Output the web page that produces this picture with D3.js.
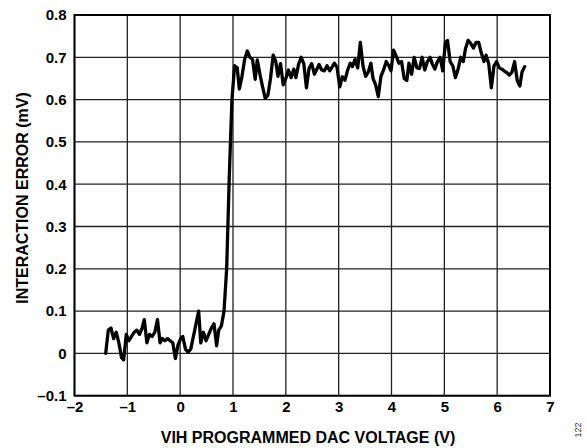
<!DOCTYPE html>
<html><head><meta charset="utf-8">
<script src="https://cdn.jsdelivr.net/npm/d3@7"></script>
<style>body{margin:0;background:#fff;}svg{display:block;font-family:"Liberation Sans",Arial,sans-serif;}</style>
</head><body>
<script>
const xTicks = [-2,-1,0,1,2,3,4,5,6,7];
const yTicks = [-0.1,0,0.1,0.2,0.3,0.4,0.5,0.6,0.7,0.8];
const xTickLabels = ["\u20132","\u20131","0","1","2","3","4","5","6","7"];
const yTickLabels = ["\u20130.1","0","0.1","0.2","0.3","0.4","0.5","0.6","0.7","0.8"];
const xTitle = "VIH PROGRAMMED DAC VOLTAGE (V)";
const yTitle = "INTERACTION ERROR (mV)";
const figNote = "122";
// sample voltages (V)
const voltage = [
-1.41,-1.36,-1.31,-1.26,-1.21,-1.16,-1.11,-1.07,-1.02,-0.97,
-0.92,-0.87,-0.82,-0.77,-0.72,-0.68,-0.63,-0.58,-0.53,-0.48,
-0.43,-0.38,-0.34,-0.29,-0.24,-0.19,-0.14,-0.09,-0.04,0.01,
0.05,0.10,0.15,0.20,0.25,0.30,0.35,0.39,0.44,0.49,
0.54,0.59,0.64,0.69,0.73,0.78,0.83,0.88,0.93,0.98,
1.03,1.08,1.12,1.17,1.22,1.27,1.32,1.37,1.42,1.46,
1.51,1.56,1.61,1.66,1.71,1.76,1.81,1.85,1.90,1.95,
2.00,2.05,2.10,2.15,2.19,2.24,2.29,2.34,2.39,2.44,
2.49,2.54,2.58,2.63,2.68,2.73,2.78,2.83,2.88,2.92,
2.97,3.02,3.07,3.12,3.17,3.22,3.26,3.31,3.36,3.41,
3.46,3.51,3.56,3.61,3.65,3.70,3.75,3.80,3.85,3.90,
3.95,3.99,4.04,4.09,4.14,4.19,4.24,4.29,4.33,4.38,
4.43,4.48,4.53,4.58,4.63,4.68,4.73,4.77,4.82,4.87,
4.92,4.97,5.02,5.06,5.11,5.16,5.21,5.26,5.31,5.36,
5.40,5.45,5.50,5.55,5.60,5.65,5.70,5.75,5.79,5.84,
5.89,5.94,5.99,6.04,6.09,6.13,6.18,6.23,6.28,6.33,
6.38,6.43,6.47,6.52];
// interaction error (mV)
const errorMV = [
0,0.055,0.06,0.035,0.05,0.025,-0.01,-0.015,0.045,0.03,
0.04,0.05,0.055,0.045,0.06,0.08,0.025,0.045,0.04,0.05,
0.08,0.025,0.035,0.03,0.035,0.03,0.025,-0.012,0.02,0.035,
0.04,0.01,0.003,0.01,0.04,0.07,0.1,0.025,0.05,0.03,
0.045,0.06,0.07,0.018,0.055,0.065,0.1,0.2,0.42,0.6,
0.68,0.675,0.625,0.655,0.695,0.715,0.7,0.695,0.648,0.694,
0.66,0.63,0.603,0.61,0.65,0.705,0.69,0.655,0.685,0.635,
0.65,0.67,0.652,0.672,0.652,0.683,0.7,0.685,0.628,0.674,
0.685,0.66,0.67,0.683,0.67,0.668,0.68,0.668,0.678,0.686,
0.676,0.63,0.654,0.646,0.67,0.686,0.678,0.695,0.675,0.735,
0.68,0.655,0.665,0.686,0.65,0.635,0.607,0.655,0.67,0.69,
0.68,0.668,0.717,0.702,0.686,0.69,0.65,0.645,0.686,0.66,
0.7,0.675,0.674,0.70,0.67,0.69,0.70,0.685,0.672,0.69,
0.70,0.668,0.735,0.74,0.69,0.68,0.652,0.672,0.70,0.69,
0.72,0.74,0.733,0.722,0.735,0.735,0.71,0.69,0.705,0.685,
0.628,0.68,0.69,0.675,0.672,0.668,0.664,0.658,0.665,0.69,
0.645,0.632,0.665,0.678];

const W = 587, H = 448;
const svg = d3.select("body").append("svg").attr("width", W).attr("height", H);
const x = d3.scaleLinear().domain([-2, 7]).range([74.5, 550]);
const y = d3.scaleLinear().domain([-0.1, 0.8]).range([395.7, 15]);

const g = svg.append("g");
// grid
g.selectAll(".vx").data(xTicks).join("line")
  .attr("x1", d => x(d)).attr("x2", d => x(d))
  .attr("y1", y(0.8)).attr("y2", y(-0.1))
  .attr("stroke", "#222").attr("stroke-width", 1.3);
g.selectAll(".hy").data(yTicks).join("line")
  .attr("x1", x(-2)).attr("x2", x(7))
  .attr("y1", d => y(d)).attr("y2", d => y(d))
  .attr("stroke", "#222").attr("stroke-width", 1.3);
// border
g.append("rect").attr("x", x(-2)).attr("y", y(0.8))
  .attr("width", x(7) - x(-2)).attr("height", y(-0.1) - y(0.8))
  .attr("fill", "none").attr("stroke", "#000").attr("stroke-width", 2);

// axes labels via d3 axes (no tick lines)
const xAxis = d3.axisBottom(x).tickValues(xTicks).tickSize(0).tickPadding(6)
  .tickFormat((d, i) => xTickLabels[i]);
const gx = svg.append("g").attr("transform", `translate(0,${y(-0.1)})`).call(xAxis);
gx.select(".domain").remove();
gx.selectAll("text").attr("font-family", "Liberation Sans, Arial, sans-serif")
  .attr("font-size", 15).attr("font-weight", "bold").attr("fill", "#000");

const yAxis = d3.axisLeft(y).tickValues(yTicks).tickSize(0).tickPadding(8)
  .tickFormat((d, i) => yTickLabels[i]);
const gy = svg.append("g").attr("transform", `translate(${x(-2)},0)`).call(yAxis);
gy.select(".domain").remove();
gy.selectAll("text").attr("font-family", "Liberation Sans, Arial, sans-serif")
  .attr("font-size", 15).attr("font-weight", "bold").attr("fill", "#000");

// data line
const pts = voltage.map((v, i) => [v, errorMV[i]]);
svg.append("path").datum(pts)
  .attr("fill", "none").attr("stroke", "#000").attr("stroke-width", 3.3)
  .attr("stroke-linejoin", "round").attr("stroke-linecap", "round")
  .attr("d", d3.line().x(d => x(d[0])).y(d => y(d[1])));

// titles
svg.append("text").attr("x", 308).attr("y", 443)
  .attr("text-anchor", "middle").attr("font-size", 16).attr("font-weight", "bold")
  .text(xTitle);
svg.append("text").attr("transform", `translate(28,198) rotate(-90)`)
  .attr("text-anchor", "middle").attr("font-size", 16).attr("font-weight", "bold")
  .text(yTitle);
svg.append("text").attr("transform", "translate(581,430) rotate(-90)")
  .attr("text-anchor", "middle").attr("font-size", 9).attr("fill", "#333")
  .text(figNote);
</script>
</body></html>
